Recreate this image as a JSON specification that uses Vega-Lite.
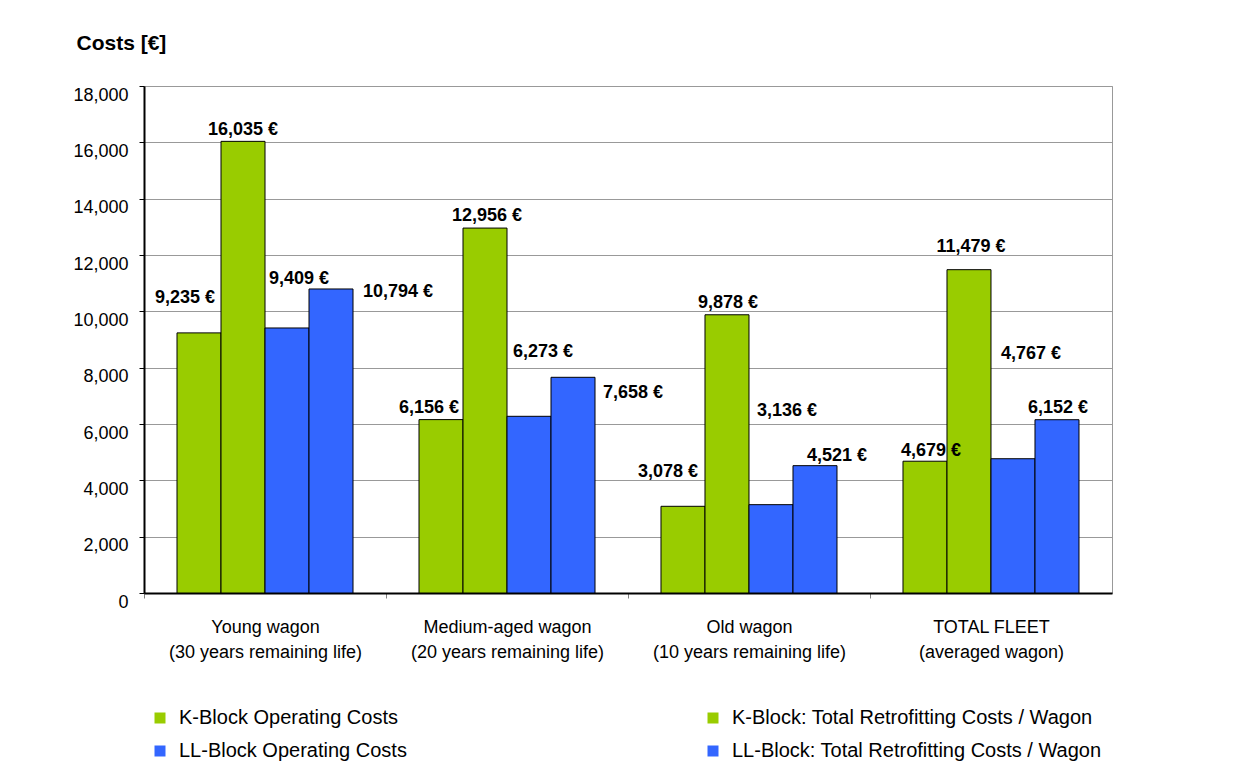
{
  "$schema": "https://vega.github.io/schema/vega-lite/v6.json",
  "width": 968,
  "height": 507,
  "autosize": "none",
  "padding": {"left": 144, "top": 86, "right": 137, "bottom": 183},
  "background": "white",
  "config": {
    "font": "Liberation Sans",
    "view": {"stroke": "#999999", "strokeWidth": 1},
    "text": {"font": "Liberation Sans", "fontSize": 18, "fontWeight": "bold", "align": "center", "baseline": "middle", "color": "black"}
  },
  "data": {
    "values": [
      {"group": "Young wagon|(30 years remaining life)", "series": "K-Block Operating Costs", "value": 9235},
      {"group": "Young wagon|(30 years remaining life)", "series": "K-Block: Total Retrofitting Costs / Wagon", "value": 16035},
      {"group": "Young wagon|(30 years remaining life)", "series": "LL-Block Operating Costs", "value": 9409},
      {"group": "Young wagon|(30 years remaining life)", "series": "LL-Block: Total Retrofitting Costs / Wagon", "value": 10794},
      {"group": "Medium-aged wagon|(20 years remaining life)", "series": "K-Block Operating Costs", "value": 6156},
      {"group": "Medium-aged wagon|(20 years remaining life)", "series": "K-Block: Total Retrofitting Costs / Wagon", "value": 12956},
      {"group": "Medium-aged wagon|(20 years remaining life)", "series": "LL-Block Operating Costs", "value": 6273},
      {"group": "Medium-aged wagon|(20 years remaining life)", "series": "LL-Block: Total Retrofitting Costs / Wagon", "value": 7658},
      {"group": "Old wagon|(10 years remaining life)", "series": "K-Block Operating Costs", "value": 3078},
      {"group": "Old wagon|(10 years remaining life)", "series": "K-Block: Total Retrofitting Costs / Wagon", "value": 9878},
      {"group": "Old wagon|(10 years remaining life)", "series": "LL-Block Operating Costs", "value": 3136},
      {"group": "Old wagon|(10 years remaining life)", "series": "LL-Block: Total Retrofitting Costs / Wagon", "value": 4521},
      {"group": "TOTAL FLEET|(averaged wagon)", "series": "K-Block Operating Costs", "value": 4679},
      {"group": "TOTAL FLEET|(averaged wagon)", "series": "K-Block: Total Retrofitting Costs / Wagon", "value": 11479},
      {"group": "TOTAL FLEET|(averaged wagon)", "series": "LL-Block Operating Costs", "value": 4767},
      {"group": "TOTAL FLEET|(averaged wagon)", "series": "LL-Block: Total Retrofitting Costs / Wagon", "value": 6152}
    ]
  },
  "transform": [
    {"calculate": "format(datum.value, ',') + ' €'", "as": "label"}
  ],
  "encoding": {
    "x": {
      "field": "group", "type": "nominal", "sort": null, "title": null,
      "scale": {"paddingInner": 0.2727, "paddingOuter": 0.1364},
      "axis": {
        "labelAngle": 0, "labelExpr": "split(datum.label, '|')", "labelFontSize": 18, "labelColor": "black",
        "labelLineHeight": 25, "labelBaseline": "top", "labelPadding": 20, "labelFont": "Liberation Sans", "labelLimit": 400,
        "domainColor": "black", "domainWidth": 2, "tickColor": "#808080", "tickSize": 5, "ticks": true, "grid": false,
        "tickOffset": -121, "labelOffset": 121
      }
    },
    "xOffset": {
      "field": "series", "type": "nominal",
      "sort": ["K-Block Operating Costs", "K-Block: Total Retrofitting Costs / Wagon", "LL-Block Operating Costs", "LL-Block: Total Retrofitting Costs / Wagon"],
      "scale": {"paddingInner": 0, "paddingOuter": 0}
    },
    "y": {
      "field": "value", "type": "quantitative",
      "scale": {"domain": [0, 18000], "nice": false},
      "axis": {
        "values": [0, 2000, 4000, 6000, 8000, 10000, 12000, 14000, 16000, 18000],
        "format": ",.0f", "labelFontSize": 18, "labelColor": "black", "labelFont": "Liberation Sans",
        "labelPadding": 11, "labelOffset": 9, "labelBaseline": "middle",
        "domainColor": "black", "domainWidth": 2, "tickColor": "black", "tickSize": 5,
        "gridColor": "#999999", "gridWidth": 1,
        "gridDash": {"condition": {"test": "datum.value == 18000", "value": [5, 2]}, "value": []},
        "title": "Costs [€]", "titleAngle": 0, "titleX": -68, "titleY": -37, "titleAlign": "left",
        "titleBaseline": "alphabetic", "titleFontSize": 21, "titleFontWeight": "bold", "titleFont": "Liberation Sans", "titleColor": "black"
      }
    }
  },
  "layer": [
    {
      "mark": {"type": "bar", "stroke": "black", "strokeWidth": 1},
      "encoding": {
        "color": {
          "field": "series", "type": "nominal",
          "sort": ["K-Block Operating Costs", "K-Block: Total Retrofitting Costs / Wagon", "LL-Block Operating Costs", "LL-Block: Total Retrofitting Costs / Wagon"],
          "scale": {"range": ["#99CC00", "#99CC00", "#3366FF", "#3366FF"]},
          "legend": {
            "title": null, "orient": "none", "legendX": 6, "legendY": 622, "columns": 2, "direction": "horizontal",
            "columnPadding": 296, "rowPadding": 13, "symbolType": "square", "symbolSize": 121,
            "symbolStrokeWidth": 0, "labelFontSize": 20, "labelFont": "Liberation Sans", "labelColor": "black",
            "labelOffset": 9, "labelLimit": 500
          }
        }
      }
    },
    {"transform": [{"filter": "datum.value == 9235"}], "mark": {"type": "text", "dx": -14, "dy": -35}, "encoding": {"text": {"field": "label"}}},
    {"transform": [{"filter": "datum.value == 16035"}], "mark": {"type": "text", "dx": 0, "dy": -11}, "encoding": {"text": {"field": "label"}}},
    {"transform": [{"filter": "datum.value == 9409"}], "mark": {"type": "text", "dx": 12, "dy": -49}, "encoding": {"text": {"field": "label"}}},
    {"transform": [{"filter": "datum.value == 10794"}], "mark": {"type": "text", "dx": 67, "dy": 3}, "encoding": {"text": {"field": "label"}}},
    {"transform": [{"filter": "datum.value == 6156"}], "mark": {"type": "text", "dx": -12, "dy": -12}, "encoding": {"text": {"field": "label"}}},
    {"transform": [{"filter": "datum.value == 12956"}], "mark": {"type": "text", "dx": 2, "dy": -12}, "encoding": {"text": {"field": "label"}}},
    {"transform": [{"filter": "datum.value == 6273"}], "mark": {"type": "text", "dx": 14, "dy": -64}, "encoding": {"text": {"field": "label"}}},
    {"transform": [{"filter": "datum.value == 7658"}], "mark": {"type": "text", "dx": 60, "dy": 16}, "encoding": {"text": {"field": "label"}}},
    {"transform": [{"filter": "datum.value == 3078"}], "mark": {"type": "text", "dx": -15, "dy": -34}, "encoding": {"text": {"field": "label"}}},
    {"transform": [{"filter": "datum.value == 9878"}], "mark": {"type": "text", "dx": 1, "dy": -12}, "encoding": {"text": {"field": "label"}}},
    {"transform": [{"filter": "datum.value == 3136"}], "mark": {"type": "text", "dx": 16, "dy": -94}, "encoding": {"text": {"field": "label"}}},
    {"transform": [{"filter": "datum.value == 4521"}], "mark": {"type": "text", "dx": 22, "dy": -10}, "encoding": {"text": {"field": "label"}}},
    {"transform": [{"filter": "datum.value == 4679"}], "mark": {"type": "text", "dx": 6, "dy": -10}, "encoding": {"text": {"field": "label"}}},
    {"transform": [{"filter": "datum.value == 11479"}], "mark": {"type": "text", "dx": 2, "dy": -23}, "encoding": {"text": {"field": "label"}}},
    {"transform": [{"filter": "datum.value == 4767"}], "mark": {"type": "text", "dx": 18, "dy": -105}, "encoding": {"text": {"field": "label"}}},
    {"transform": [{"filter": "datum.value == 6152"}], "mark": {"type": "text", "dx": 1, "dy": -12}, "encoding": {"text": {"field": "label"}}}
  ]
}
